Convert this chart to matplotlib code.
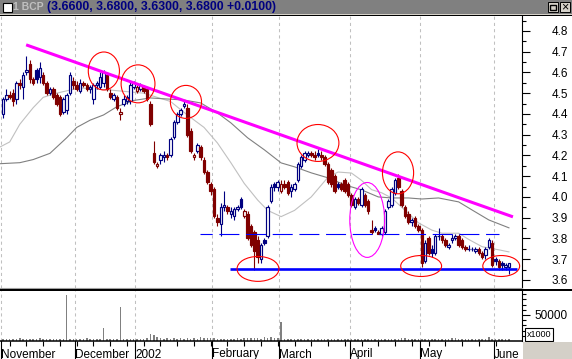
import matplotlib
matplotlib.use("Agg")
import matplotlib.pyplot as plt
import numpy as np
from matplotlib.patches import Rectangle, Ellipse
from matplotlib.transforms import Affine2D, blended_transform_factory
from matplotlib.ticker import FormatStrFormatter

plt.rcParams['font.family'] = ['Liberation Sans', 'DejaVu Sans']

# ---------------- data (daily bars, BCP, Nov 2001 - Jun 2002) ----------------
opens = [
    4.40, 4.47, 4.49, 4.50, 4.47, 4.55, 4.53, 4.60, 4.64, 4.57, 4.61, 4.58, 4.59, 4.55, 4.50, 4.52, 4.49, 4.48, 4.41, 4.42, 4.50, 4.56,
    4.54, 4.51, 4.55, 4.54, 4.52, 4.47, 4.54, 4.53, 4.55, 4.59, 4.50, 4.47, 4.48, 4.40, 4.45, 4.46, 4.46, 4.53,
    4.51, 4.52, 4.53, 4.52, 4.45, 4.21, 4.15, 4.18, 4.19, 4.20, 4.20, 4.29, 4.36, 4.40, 4.44, 4.43, 4.32, 4.19, 4.22, 4.24, 4.18, 4.12,
    4.06, 4.04, 3.90, 3.87, 3.95, 3.95, 3.92, 3.91, 3.94, 3.99, 3.91, 3.92, 3.86, 3.83, 3.79, 3.70, 3.79, 3.81, 3.98, 4.06,
    4.05, 4.03, 4.06, 4.07, 4.03, 4.04, 4.08, 4.15, 4.18, 4.20, 4.21, 4.20, 4.21, 4.20, 4.19, 4.16, 4.13, 4.10, 4.06, 4.06, 4.08,
    4.06, 4.01, 3.95, 3.99, 3.96, 4.01, 3.98, 3.84, 3.85, 3.83, 3.82, 3.83, 3.95, 3.96, 4.02, 4.09, 4.03, 3.95, 3.92, 3.88, 3.90, 3.86,
    3.84, 3.69, 3.80, 3.75, 3.73, 3.81, 3.81, 3.79, 3.76, 3.79, 3.80, 3.81, 3.79, 3.76, 3.75, 3.75, 3.74, 3.75, 3.73, 3.72, 3.76, 3.78,
    3.70, 3.69, 3.68, 3.66, 3.66,
]
highs = [
    4.48, 4.52, 4.51, 4.52, 4.56, 4.57, 4.60, 4.68, 4.66, 4.58, 4.62, 4.65, 4.60, 4.56, 4.53, 4.53, 4.50, 4.49, 4.48, 4.50, 4.60, 4.58,
    4.56, 4.57, 4.56, 4.55, 4.54, 4.55, 4.56, 4.60, 4.61, 4.60, 4.52, 4.50, 4.49, 4.43, 4.49, 4.49, 4.56, 4.56,
    4.54, 4.55, 4.54, 4.53, 4.46, 4.27, 4.17, 4.21, 4.22, 4.21, 4.29, 4.37, 4.41, 4.43, 4.46, 4.45, 4.33, 4.21, 4.26, 4.25, 4.19, 4.13,
    4.07, 4.05, 3.92, 3.97, 4.03, 3.96, 3.95, 3.95, 3.96, 4.00, 3.94, 3.93, 3.87, 3.84, 3.81, 3.78, 3.80, 3.96, 4.06, 4.07,
    4.08, 4.08, 4.08, 4.08, 4.06, 4.07, 4.17, 4.20, 4.22, 4.22, 4.22, 4.22, 4.23, 4.22, 4.20, 4.17, 4.14, 4.11, 4.07, 4.07, 4.09,
    4.07, 4.02, 4.00, 4.00, 4.05, 4.02, 3.99, 3.89, 3.86, 3.84, 3.86, 3.94, 3.99, 4.05, 4.09, 4.11, 4.04, 3.96, 3.93, 3.90, 3.91, 3.87,
    3.85, 3.79, 3.81, 3.77, 3.82, 3.85, 3.82, 3.80, 3.78, 3.82, 3.82, 3.82, 3.80, 3.77, 3.77, 3.76, 3.76, 3.76, 3.74, 3.76, 3.80, 3.79,
    3.71, 3.70, 3.69, 3.68, 3.68,
]
lows = [
    4.38, 4.46, 4.47, 4.44, 4.45, 4.52, 4.47, 4.59, 4.55, 4.54, 4.55, 4.55, 4.54, 4.49, 4.49, 4.47, 4.44, 4.39, 4.40, 4.40, 4.49, 4.52,
    4.51, 4.50, 4.53, 4.51, 4.50, 4.45, 4.52, 4.52, 4.53, 4.51, 4.47, 4.46, 4.42, 4.37, 4.44, 4.45, 4.45, 4.52,
    4.50, 4.51, 4.50, 4.46, 4.34, 4.16, 4.14, 4.16, 4.17, 4.18, 4.19, 4.28, 4.35, 4.39, 4.43, 4.29, 4.21, 4.18, 4.21, 4.18, 4.11, 4.06,
    4.01, 3.90, 3.86, 3.81, 3.93, 3.92, 3.90, 3.89, 3.93, 3.94, 3.90, 3.79, 3.76, 3.65, 3.68, 3.68, 3.77, 3.80, 3.97, 4.03,
    4.03, 4.02, 4.04, 4.01, 4.00, 4.03, 4.07, 4.14, 4.17, 4.19, 4.19, 4.18, 4.19, 4.18, 4.15, 4.06, 4.05, 4.02, 4.04, 4.03, 4.02,
    4.00, 3.95, 3.94, 3.96, 3.95, 3.95, 3.92, 3.82, 3.83, 3.82, 3.81, 3.82, 3.94, 3.95, 4.01, 4.04, 3.95, 3.90, 3.87, 3.86, 3.85, 3.83,
    3.66, 3.68, 3.72, 3.71, 3.72, 3.79, 3.78, 3.76, 3.75, 3.78, 3.79, 3.76, 3.75, 3.74, 3.74, 3.74, 3.73, 3.72, 3.70, 3.70, 3.75, 3.66,
    3.67, 3.65, 3.65, 3.65, 3.63,
]
closes = [
    4.47, 4.49, 4.48, 4.46, 4.55, 4.54, 4.59, 4.61, 4.57, 4.55, 4.57, 4.62, 4.55, 4.50, 4.52, 4.48, 4.45, 4.40, 4.47, 4.49, 4.59, 4.54,
    4.52, 4.55, 4.54, 4.52, 4.53, 4.54, 4.55, 4.58, 4.60, 4.52, 4.48, 4.49, 4.43, 4.41, 4.47, 4.48, 4.54, 4.55,
    4.53, 4.54, 4.51, 4.47, 4.35, 4.17, 4.16, 4.20, 4.20, 4.19, 4.28, 4.36, 4.40, 4.42, 4.45, 4.30, 4.22, 4.20, 4.25, 4.19, 4.12, 4.07,
    4.03, 3.91, 3.88, 3.95, 3.96, 3.93, 3.93, 3.94, 3.95, 3.95, 3.93, 3.80, 3.77, 3.74, 3.71, 3.77, 3.78, 3.95, 4.05, 4.05,
    4.07, 4.06, 4.05, 4.02, 4.05, 4.06, 4.16, 4.19, 4.21, 4.21, 4.20, 4.19, 4.20, 4.19, 4.16, 4.07, 4.06, 4.03, 4.05, 4.04, 4.03,
    4.01, 3.96, 3.99, 3.97, 4.04, 3.96, 3.93, 3.83, 3.84, 3.82, 3.85, 3.93, 3.98, 4.04, 4.08, 4.05, 3.96, 3.91, 3.88, 3.89, 3.86, 3.84,
    3.68, 3.78, 3.73, 3.73, 3.81, 3.81, 3.79, 3.77, 3.77, 3.80, 3.81, 3.77, 3.76, 3.75, 3.75, 3.75, 3.75, 3.73, 3.71, 3.75, 3.79, 3.67,
    3.69, 3.66, 3.67, 3.67, 3.68,
]
# volume in thousands
volume = [
    3, 4, 4, 3, 3, 5, 4, 3, 3, 4, 4, 5, 3, 3, 4, 3, 4, 3, 3, 88, 4, 3,
    3, 3, 4, 5, 3, 3, 4, 3, 25, 3, 3, 3, 4, 65, 3, 3, 4, 3,
    3, 3, 4, 5, 13, 12, 7, 5, 4, 5, 4, 5, 4, 6, 4, 5, 3, 6, 4, 7, 5, 5,
    6, 5, 4, 4, 3, 4, 3, 4, 5, 4, 6, 6, 5, 6, 5, 4, 7, 6, 8, 5,
    5, 36, 4, 3, 4, 3, 3, 4, 3, 3, 4, 4, 3, 3, 4, 3, 3, 3, 4, 3, 3,
    3, 3, 3, 3, 4, 3, 3, 3, 3, 3, 3, 3, 4, 4, 3, 3, 6, 6, 3, 3, 3, 3,
    4, 3, 3, 3, 3, 3, 3, 3, 3, 6, 6, 3, 3, 3, 3, 3, 3, 3, 3, 3, 8, 3,
    3, 3, 3, 3, 3,
]

# moving averages (at sample bars)
ma_short_idx = [-1, 2, 5, 9, 12, 16, 20, 23, 32, 42, 50, 55, 60, 64, 68, 72, 76, 79, 83, 87,
                92, 97, 100, 104, 107, 110, 113, 116, 119, 124, 128, 131, 136, 139, 143, 148, 151]
ma_short = [4.24, 4.265, 4.35, 4.43, 4.48, 4.50, 4.515, 4.525, 4.515, 4.50, 4.46, 4.395, 4.335, 4.26,
            4.165, 4.065, 3.985, 3.935, 3.905, 3.935, 4.00, 4.095, 4.12, 4.115, 4.08, 4.035, 4.02,
            3.995, 3.95, 3.875, 3.84, 3.825, 3.825, 3.795, 3.76, 3.745, 3.735]
ma_long_idx = [-1, 5, 9, 14, 19, 22, 26, 30, 34, 39, 44, 54, 59, 64, 68, 73, 78, 83, 87, 92,
               97, 102, 107, 112, 116, 121, 125, 130, 136, 140, 145, 151]
ma_long = [4.16, 4.165, 4.18, 4.21, 4.285, 4.335, 4.37, 4.395, 4.435, 4.465, 4.477, 4.467, 4.453,
           4.405, 4.357, 4.285, 4.227, 4.164, 4.145, 4.116, 4.092, 4.058, 4.034, 4.00, 3.995, 3.995,
           3.99, 3.995, 3.976, 3.937, 3.889, 3.851]

month_names = ["November", "December", "2002", "February", "March", "April", "May", "June"]
month_start = [0, 22, 40, 63, 83, 104, 125, 147]

# hand drawn annotations
trend_x = [6.9, 152.2]
trend_y = [4.733, 3.904]
resist_level, resist_x = 3.822, [58.8, 148.0]
support_level, support_x = 3.653, [67.8, 153.4]
red_circles = [(30.1, 4.607, 9.3, 0.183), (40.3, 4.545, 10.1, 0.183), (54.6, 4.458, 9.3, 0.159),
               (76.1, 3.653, 12.5, 0.120), (94.0, 4.260, 12.5, 0.178), (117.9, 4.116, 9.3, 0.202),
               (124.8, 3.667, 12.2, 0.101), (148.7, 3.667, 11.0, 0.101)]
pink_circle = (108.7, 3.889, 10.4, 0.361)

BLUE = '#000080'
RED = '#800000'
W, H = 572, 359

fig = plt.figure(figsize=(W / 100, H / 100), dpi=100)
fig.patch.set_facecolor('white')
pix = Affine2D().scale(1.0 / W, -1.0 / H).translate(0, 1) + fig.transFigure


def box(x0, y0, x1, y1):
    return [x0 / W, 1 - y1 / H, (x1 - x0) / W, (y1 - y0) / H]


def prect(x, y, w, h, **kw):
    fig.add_artist(Rectangle((x, y), w, h, transform=pix, **kw))


# ---- window title bar ----
prect(0, 0, W, 13.5, facecolor='#808080', edgecolor='none')
prect(0, 13.5, W, 1.2, facecolor='#d4d0c8', edgecolor='none')
prect(0, 14.7, W, 1.3, facecolor='black', edgecolor='none')
prect(2.5, 2.5, 9, 9, facecolor='white', edgecolor='black', lw=0.8)
fig.text(13 / W, 1 - 7 / H, "1 BCP", color='#c0c0c0', fontsize=7.5, fontweight='bold', va='center')
n = len(closes)
title = "({:.4f}, {:.4f}, {:.4f}, {:.4f} {:+.4f})".format(opens[-1], highs[-1], lows[-1], closes[-1],
                                                        closes[-1] - closes[-2])
fig.text(47 / W, 1 - 7 / H, title, color=BLUE, fontsize=8.8, fontweight='bold', va='center')
prect(547.5, 1.5, 10.5, 10.5, facecolor='#d4d0c8', edgecolor='black', lw=0.7)
prect(549.5, 4.5, 6.5, 5, facecolor='none', edgecolor='black', lw=1.0)
prect(559.5, 1.5, 10.5, 10.5, facecolor='#d4d0c8', edgecolor='black', lw=0.7)
fig.text(564.8 / W, 1 - 7 / H, "\u00d7", color='black', fontsize=9, ha='center', va='center')

# ---- price panel ----
ax = fig.add_axes(box(0, 16, 522, 288))
ax.set_xlim(-0.9, 154.9)
ax.set_ylim(3.561, 4.872)
for s in ['left', 'top']:
    ax.spines[s].set_visible(False)
ax.spines['bottom'].set_color('#a0a0a0')
ax.spines['bottom'].set_linewidth(0.8)
ax.spines['right'].set_linewidth(0.8)
ax.set_xticks([])
ax.yaxis.tick_right()
ax.set_yticks(np.arange(3.6, 4.85, 0.1))
ax.set_yticks(np.arange(3.65, 4.87, 0.1), minor=True)
ax.yaxis.set_major_formatter(FormatStrFormatter('%.1f'))
ax.tick_params(axis='y', which='major', length=5.8, width=0.8, pad=15.5, labelsize=8.5)
ax.tick_params(axis='y', which='minor', length=2.9, width=0.8)

for m in month_start:
    ax.axvline(m - 0.5, color='#c0c0c0', lw=0.75, ls=(0, (3, 3)), zorder=0)

ax.plot(ma_short_idx, ma_short, color='#c0c0c0', lw=0.8, zorder=1)
ax.plot(ma_long_idx, ma_long, color='#808080', lw=0.8, zorder=1)

for i in range(n):
    o, h, l, c = opens[i], highs[i], lows[i], closes[i]
    prev = closes[i - 1] if i > 0 else o
    col = BLUE if c >= prev else RED
    ax.vlines(i, l, h, color=col, lw=0.8, zorder=3)
    lo, hi = min(o, c), max(o, c)
    face = 'white' if c > o else col
    if hi - lo < 0.004:
        ax.hlines(o, i - 0.4, i + 0.4, color=col, lw=0.9, zorder=4)
    else:
        ax.add_patch(Rectangle((i - 0.38, lo), 0.76, hi - lo, facecolor=face, edgecolor=col,
                               lw=0.85, zorder=4))

ax.plot(trend_x, trend_y, color='#ff00ff', lw=2.2, zorder=6, solid_capstyle='butt')
ax.plot(resist_x, [resist_level] * 2, color='#0000ff', lw=0.8, ls=(7, (18, 6)), zorder=6)
ax.plot(support_x, [support_level] * 2, color='#0000ff', lw=1.9, zorder=6, solid_capstyle='butt')
for cx, cy, w, h in red_circles:
    ax.add_patch(Ellipse((cx, cy), w, h, fill=False, edgecolor='#ff0000', lw=0.8, zorder=7))
cx, cy, w, h = pink_circle
ax.add_patch(Ellipse((cx, cy), w, h, fill=False, edgecolor='#ff00ff', lw=0.8, zorder=7))

# ---- volume panel ----
axv = fig.add_axes(box(0, 290, 522, 341))
axv.set_xlim(-0.9, 154.9)
axv.set_ylim(0, 98000)
for s in ['left', 'top']:
    axv.spines[s].set_visible(False)
axv.spines['bottom'].set_linewidth(1.1)
axv.spines['right'].set_linewidth(0.8)
axv.yaxis.tick_right()
axv.set_yticks([50000])
axv.set_yticks(np.arange(10000, 98000, 10000), minor=True)
axv.yaxis.set_major_formatter(FormatStrFormatter('%d'))
axv.tick_params(axis='y', which='major', length=5.8, width=0.8, pad=3.5, labelsize=8.5)
axv.tick_params(axis='y', which='minor', length=2.9, width=0.8)
axv.set_xticks(np.arange(2, n, 5))
axv.tick_params(axis='x', which='major', length=3.6, width=0.8, labelbottom=False)
for m in month_start:
    axv.axvline(m - 0.5, color='#c0c0c0', lw=0.75, ls=(0, (3, 3)), zorder=0)
axv.bar(np.arange(n), np.array(volume) * 1000, width=0.45, color='#808080', zorder=2)

# full width separator above the volume panel
prect(0, 289, W, 2, facecolor='black', edgecolor='none')

# month ticks and labels
bt = blended_transform_factory(axv.transData, pix)
for m, name in zip(month_start, month_names):
    axv.plot([m - 0.5, m - 0.5], [341, 359], color='black', lw=0.8, transform=bt, clip_on=False)
    axv.text(m - 0.5, 357.5, name, transform=bt, fontsize=8.5,
             ha='left', va='baseline', clip_on=False)

# x1000 box and corner
prect(525, 328, 28, 13, facecolor='white', edgecolor='black', lw=0.8)
fig.text(539 / W, 1 - 334.8 / H, "x1000", fontsize=6.5, ha='center', va='center')
prect(523, 342, 49, 17, facecolor='#d4d0c8', edgecolor='none')

fig.savefig("out.png", dpi=100)
